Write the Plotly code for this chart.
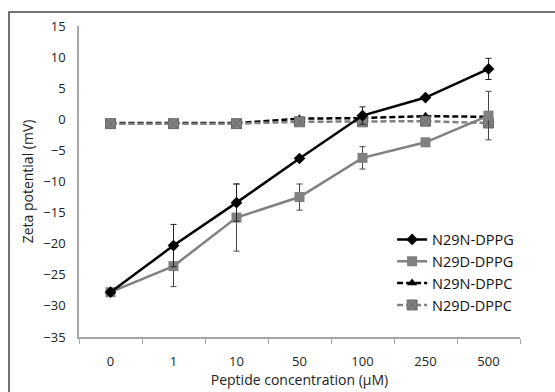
import plotly.graph_objects as go

categories = ["0", "1", "10", "50", "100", "250", "500"]
n29n_dppg = [-27.8, -20.3, -13.4, -6.3, 0.6, 3.5, 8.1]
n29n_dppg_err = [0, 3.4, 3.0, 0, 1.4, 0, 1.7]
n29d_dppg = [-27.8, -23.6, -15.8, -12.5, -6.2, -3.7, 0.6]
n29d_dppg_err = [0, 3.3, 5.4, 2.1, 1.8, 0, 3.9]
n29n_dppc = [-0.6, -0.6, -0.6, 0.1, 0.2, 0.5, 0.4]
n29d_dppc = [-0.7, -0.7, -0.7, -0.4, -0.4, -0.3, -0.6]
y_ticks = [15, 10, 5, 0, -5, -10, -15, -20, -25, -30, -35]

GREY = "#808080"
FONT = "Open Sans"

fig = go.Figure()
fig.add_trace(go.Scatter(
    x=categories, y=n29n_dppc, name="N29N-DPPC", mode="lines+markers",
    line=dict(color="black", width=2.5, dash="6px,3px"),
    marker=dict(symbol="triangle-up", size=9, color="black"),
    legendrank=3))
fig.add_trace(go.Scatter(
    x=categories, y=n29d_dppc, name="N29D-DPPC", mode="lines+markers",
    line=dict(color=GREY, width=2.5, dash="6px,3px"),
    marker=dict(symbol="square-x", size=10, color=GREY, line=dict(color="#6a6a6a", width=1)),
    legendrank=4))
fig.add_trace(go.Scatter(
    x=categories, y=n29d_dppg, name="N29D-DPPG", mode="lines+markers",
    line=dict(color=GREY, width=2.5),
    marker=dict(symbol="square", size=10, color=GREY),
    error_y=dict(type="data", array=n29d_dppg_err, color="#444", thickness=1, width=3),
    legendrank=2))
fig.add_trace(go.Scatter(
    x=categories, y=n29n_dppg, name="N29N-DPPG", mode="lines+markers",
    line=dict(color="black", width=2.5),
    marker=dict(symbol="diamond", size=9, color="black"),
    error_y=dict(type="data", array=n29n_dppg_err, color="#222", thickness=1, width=3),
    legendrank=1))

fig.update_layout(
    width=555, height=392,
    margin=dict(l=79, r=35, t=26, b=55),
    paper_bgcolor="white", plot_bgcolor="white",
    font=dict(family=FONT, size=13, color="#222"),
    showlegend=True,
    legend=dict(x=0.71, y=0.365, xanchor="left", yanchor="top",
                font=dict(size=14.5, color="#111"), bgcolor="rgba(0,0,0,0)",
                tracegroupgap=0, itemwidth=30),
    xaxis=dict(
        type="category", range=[-0.5, 6.5], automargin=False,
        showline=True, linecolor="#a6a6a6", linewidth=1.5,
        ticks="outside", tickson="boundaries", ticklen=5, tickcolor="#a6a6a6",
        showgrid=False, zeroline=False,
        ticklabelstandoff=12,
        tickfont=dict(size=13, color="#222"),
        title=dict(text="Peptide concentration (μM)", font=dict(size=14, color="#222"), standoff=4),
    ),
    yaxis=dict(
        range=[-35, 15], tickvals=y_ticks, automargin=False,
        showline=True, linecolor="#a6a6a6", linewidth=1.5,
        ticks="", showgrid=False, zeroline=False,
        ticklabelstandoff=9,
        tickfont=dict(size=13, color="#222"),
        title=dict(text="Zeta potential (mV)", font=dict(size=14, color="#222"), standoff=6),
    ),
    shapes=[dict(type="rect", xref="paper", yref="paper",
                 x0=-0.1587, x1=1.3, y0=-0.4, y1=1.045,
                 line=dict(color="#444", width=1.5), fillcolor="rgba(0,0,0,0)", layer="below")],
)

fig.write_html("out.html")
